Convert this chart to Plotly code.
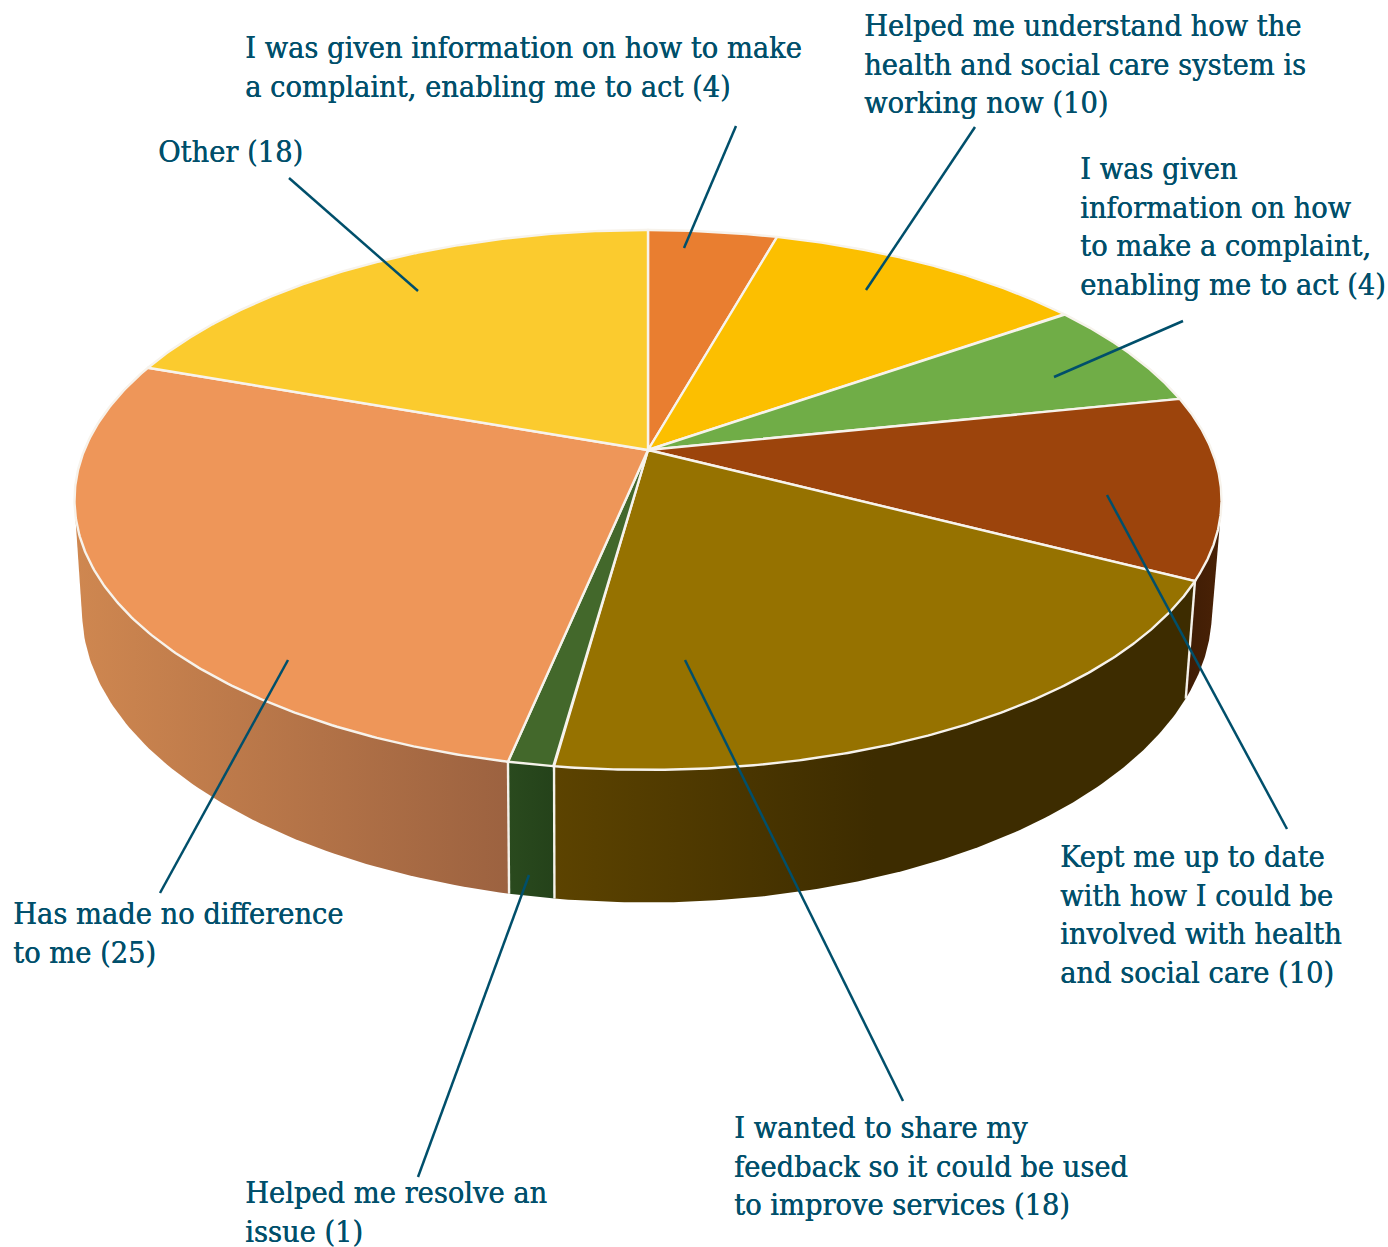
import numpy as np
import plotly.graph_objects as go

# Slice shares as drawn, clockwise from 12 o'clock
values = [4, 10, 6, 10, 18, 1, 25, 18]
labels = [
    "I was given information on how to make<br>a complaint, enabling me to act (4)",
    "Helped me understand how the<br>health and social care system is<br>working now (10)",
    "I was given<br>information on how<br>to make a complaint,<br>enabling me to act (4)",
    "Kept me up to date<br>with how I could be<br>involved with health<br>and social care (10)",
    "I wanted to share my<br>feedback so it could be used<br>to improve services (18)",
    "Helped me resolve an<br>issue (1)",
    "Has made no difference<br>to me (25)",
    "Other (18)",
]
top_colors = ["#E97E30", "#FCBF00", "#70AD47", "#9C440C", "#967200", "#43682B", "#EE9659", "#FBCB2E"]
# Horizontal gradient stops of the visible side walls, by slice index
wall_stops = {
    2: [[0, "#3a5a24"], [1, "#3a5a24"]],
    3: [[0, "#3a1a04"], [1, "#4a2206"]],
    4: [[0, "#5c4300"], [0.5, "#3d2c00"], [1, "#3d2c00"]],
    5: [[0, "#2a4a1e"], [1, "#24421a"]],
    6: [[0, "#cf8750"], [1, "#9c6240"]],
}

# Label placement (paper pixels) and leader lines
label_pos = [(244, 29), (863, 7), (1079, 150), (1059, 838), (733, 1109), (244, 1174), (12, 895), (157, 133)]
leaders = [
    ((684, 248), (736, 126)), ((866, 290), (975, 127)), ((1054, 377), (1183, 321)),
    ((1107, 495), (1287, 829)), ((685, 660), (903, 1101)), ((529, 875), (418, 1177)),
    ((288, 660), (160, 893)), ((418, 291), (289, 178)),
]

W, H = 1388, 1247
CX, CY, R, S, K = 648, 450, 563.6, 260.7, 0.185
BOTTOM_CX, SX, SY, BOTTOM_CY = 647, 0.985, 1.08, 557
TEXT = "#004F6B"
LINE_STEP = 38.5


def top(theta):
    u, v = np.sin(theta), np.cos(theta)
    d = 1 + K * v
    return CX + R * u / d, CY - S * v / d


def bottom(theta):
    x, y = top(theta)
    return BOTTOM_CX + SX * (x - CX), BOTTOM_CY + SY * (y - CY)


def hull(points):
    pts = sorted(set(points))

    def half(seq):
        out = []
        for p in seq:
            while len(out) > 1 and (out[-1][0] - out[-2][0]) * (p[1] - out[-2][1]) - (out[-1][1] - out[-2][1]) * (p[0] - out[-2][0]) <= 0:
                out.pop()
            out.append(p)
        return out[:-1]

    return half(pts) + half(pts[::-1])


cum = np.concatenate([[0], np.cumsum(values)]) / sum(values) * 2 * np.pi
fig = go.Figure()

# Side walls: hull of each slice's upper and lower arcs gives the cylinder silhouette
for i, stops in wall_stops.items():
    t = np.linspace(cum[i], cum[i + 1], 120)
    xt, yt = top(t)
    xb, yb = bottom(t)
    poly = hull(list(zip(np.r_[xt, xb].tolist(), np.r_[yt, yb].tolist())))
    poly.append(poly[0])
    fig.add_trace(go.Scatter(
        x=[p[0] for p in poly], y=[p[1] for p in poly], mode="lines", fill="toself",
        line=dict(width=0, color="rgba(0,0,0,0)"),
        fillgradient=dict(type="horizontal", colorscale=stops),
        hoverinfo="skip", showlegend=False,
    ))
for th in cum[1:-1]:
    if np.cos(th) < 0:
        x0, y0 = top(th)
        x1, y1 = bottom(th)
        fig.add_trace(go.Scatter(x=[x0, x1], y=[y0, y1], mode="lines",
                                 line=dict(color="#F4F1EA", width=2.4),
                                 hoverinfo="skip", showlegend=False))

# Top surface
for i in range(len(values)):
    t = np.linspace(cum[i], cum[i + 1], 200)
    x, y = top(t)
    fig.add_trace(go.Scatter(
        x=np.r_[CX, x, CX], y=np.r_[CY, y, CY], mode="lines", fill="toself",
        fillcolor=top_colors[i], line=dict(color="#F7F3EC", width=2.4),
        hoverinfo="skip", showlegend=False,
    ))

# Leader lines
for (p, q) in leaders:
    fig.add_trace(go.Scatter(x=[p[0], q[0]], y=[p[1], q[1]], mode="lines",
                             line=dict(color=TEXT, width=2.5),
                             hoverinfo="skip", showlegend=False))

for text, (x, y) in zip(labels, label_pos):
    for n, line in enumerate(text.split("<br>")):
        fig.add_annotation(x=x, y=y + n * LINE_STEP, xref="x", yref="y", text=line, showarrow=False,
                           xanchor="left", yanchor="top", align="left", borderpad=0,
                           font=dict(family="DejaVu Serif Condensed, DejaVu Serif", size=30.4, color=TEXT,
                                     shadow="0.4px 0 0 #004F6B"))

fig.update_layout(
    width=W, height=H, margin=dict(l=0, r=0, t=0, b=0), autosize=False,
    paper_bgcolor="white", plot_bgcolor="white", showlegend=False,
    xaxis=dict(range=[0, W], visible=False, fixedrange=True),
    yaxis=dict(range=[H, 0], visible=False, fixedrange=True),
)
fig.write_html("out.html", config={"displayModeBar": False},
               post_script="document.body.style.margin='0';document.body.style.overflow='hidden';")
